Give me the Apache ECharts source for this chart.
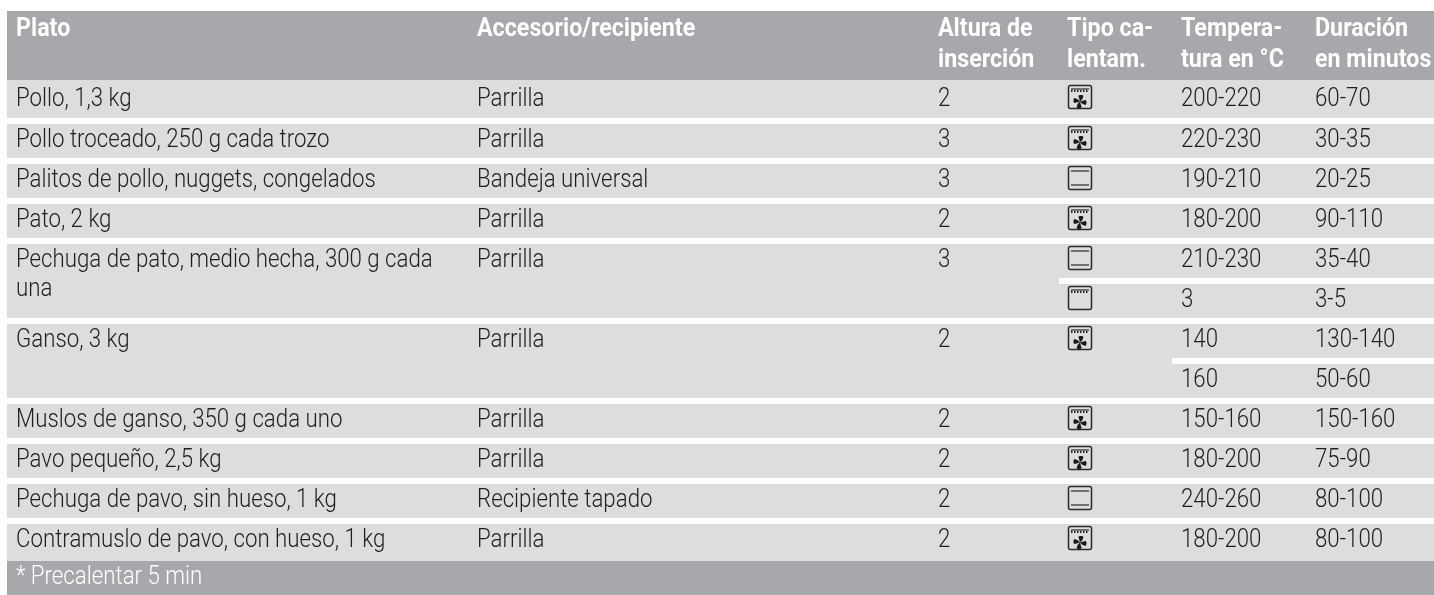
<!DOCTYPE html>
<html>
<head>
<meta charset="utf-8">
<style>
html, body { margin: 0; padding: 0; background: #fff; }
#box { width: 1434px; height: 595px; }
</style>
<script src="https://cdn.jsdelivr.net/npm/echarts@6/dist/echarts.min.js"></script>
</head>
<body>
<div id="box"></div>
<script>
// textos de la tabla
var cabeceras = ['Plato', 'Accesorio/recipiente', 'Altura de\ninserción', 'Tipo ca-\nlentam.', 'Tempera-\ntura en °C', 'Duración\nen minutos'];
var platos = ['Pollo, 1,3 kg', 'Pollo troceado, 250 g cada trozo', 'Palitos de pollo, nuggets, congelados', 'Pato, 2 kg',
    'Pechuga de pato, medio hecha, 300 g cada\nuna', 'Ganso, 3 kg', 'Muslos de ganso, 350 g cada uno', 'Pavo pequeño, 2,5 kg',
    'Pechuga de pavo, sin hueso, 1 kg', 'Contramuslo de pavo, con hueso, 1 kg'];
var accesorios = ['Parrilla', 'Parrilla', 'Bandeja universal', 'Parrilla', 'Parrilla', 'Parrilla', 'Parrilla', 'Parrilla', 'Recipiente tapado', 'Parrilla'];
var alturas = ['2', '3', '3', '2', '3', '2', '2', '2', '2', '2'];
var tipos = ['aire', 'aire', 'solera', 'aire', ['solera', 'grill'], 'aire', 'aire', 'aire', 'solera', 'aire'];
var temperaturas = ['200-220', '220-230', '190-210', '180-200', ['210-230', '3'], ['140', '160'], '150-160', '180-200', '240-260', '180-200'];
var duraciones = ['60-70', '30-35', '20-25', '90-110', ['35-40', '3-5'], ['130-140', '50-60'], '150-160', '75-90', '80-100', '80-100'];
var nota = '* Precalentar 5 min';

// geometria de filas y columnas (pixeles)
var colX = [16, 477, 938, 1068, 1181, 1315];
var filaTop = [80, 124, 164, 204, 244, 324, 404, 444, 484, 524];
var filaBottom = [118, 158, 198, 238, 318, 398, 438, 478, 518, 561];
var filaTexto = [20, 17, 17, 17, 17, 17, 17, 17, 17, 17];
var separadores = [[1059, 278, 284], [1172, 358, 364]];

var GRIS = '#a6a8ab', CLARO = '#dcddde', TINTA = '#1f1f1f';
var FUENTE = 'Roboto';

var bandas = [[7, 11, 1434, 80, GRIS], [7, 561, 1434, 595, GRIS]];
filaTop.forEach(function (t, i) {
    bandas.push([7, t, 1434, filaBottom[i], CLARO]);
});
separadores.forEach(function (s) {
    bandas.push([s[0], s[1], 1434, s[2], '#fff']);
});

var textos = [];
var iconos = [];
// cada linea es un texto aparte, asi no se mueve el centrado vertical
function pon(x, y, v, color, weight, paso, size, escala) {
    v.split('\n').forEach(function (l, k) {
        textos.push({ value: [x, y + k * paso], text: l, color: color, weight: weight, size: size, escala: escala });
    });
}
function celda(x, y, v) {
    pon(x, y, v, TINTA, 300, 29, 25, 0.89);
}
cabeceras.forEach(function (c, i) {
    pon(i === 3 ? 1067 : colX[i], 30, c, '#fff', 700, 31, 25, 0.93);
});
filaTop.forEach(function (t, i) {
    var y = t + filaTexto[i];
    celda(colX[0], y, platos[i]);
    celda(colX[1], y, accesorios[i]);
    celda(colX[2], y, alturas[i]);
    [].concat(temperaturas[i]).forEach(function (v, k) {
        celda(colX[4], y + k * 40, v);
    });
    [].concat(duraciones[i]).forEach(function (v, k) {
        celda(colX[5], y + k * 40, v);
    });
    [].concat(tipos[i]).forEach(function (v, k) {
        iconos.push({ value: [colX[3], y - 15 + k * 40], tipo: v });
    });
});
pon(colX[0], 578, nota, '#fff', 300, 29, 25, 0.89);

function pintaBanda(params, api) {
    var a = api.coord([api.value(0), api.value(1)]);
    var b = api.coord([api.value(2), api.value(3)]);
    return {
        type: 'rect',
        shape: { x: a[0], y: a[1], width: b[0] - a[0], height: b[1] - a[1] },
        style: { fill: bandas[params.dataIndex][4] }
    };
}

function pintaTexto(params, api) {
    var p = api.coord([api.value(0), api.value(1)]);
    var t = textos[params.dataIndex];
    return {
        type: 'text',
        x: p[0],
        y: p[1],
        scaleX: t.escala,
        style: {
            text: t.text,
            fill: t.color,
            font: t.weight + ' ' + t.size + 'px ' + FUENTE,
            verticalAlign: 'middle',
            align: 'left'
        }
    };
}

var ASPAS = 'M6 6 L4.6 1.2 C4.8 0 8.6 0 9 1.2 L8 4 Z M6 6 L10.8 4.6 C12 4.8 12 8.6 10.8 9 L8 8 Z M6 6 L7.4 10.8 C7.2 12 3.4 12 3 10.8 L4 8 Z M6 6 L1.2 7.4 C0 7.2 0 3.4 1.2 3 L4 4 Z';

function pintaIcono(params, api) {
    var p = api.coord([api.value(0), api.value(1)]);
    var tipo = iconos[params.dataIndex].tipo;
    var linea = { stroke: '#2a2a2a', lineWidth: 1.2, fill: null };
    var hijos = [{
        type: 'rect',
        shape: { x: 0.5, y: 0.5, width: 23, height: 23, r: 2 },
        style: { stroke: '#2a2a2a', lineWidth: 1.5, fill: null }
    }];
    if (tipo === 'solera') {
        hijos.push({ type: 'line', shape: { x1: 3, y1: 5, x2: 21, y2: 5 }, style: linea });
        hijos.push({ type: 'line', shape: { x1: 3, y1: 19, x2: 21, y2: 19 }, style: linea });
    } else {
        hijos.push({ type: 'line', shape: { x1: 3, y1: 4, x2: 21, y2: 4 }, style: linea });
        hijos.push({
            type: 'line',
            shape: { x1: 3, y1: 6, x2: 21, y2: 6 },
            style: { stroke: '#2a2a2a', lineWidth: 2, lineDash: [1.5, 1.5], fill: null }
        });
    }
    if (tipo === 'aire') {
        hijos.push({
            type: 'path',
            shape: { pathData: ASPAS, x: 5.5, y: 10, width: 13, height: 13 },
            style: { fill: '#1a1a1a' }
        });
    }
    return { type: 'group', x: p[0], y: p[1], children: hijos };
}

var myChart = echarts.init(document.getElementById('box'));
myChart.setOption({
    animation: false,
    grid: { left: 0, right: 0, top: 0, bottom: 0 },
    xAxis: { type: 'value', min: 0, max: 1434, show: false },
    yAxis: { type: 'value', min: 0, max: 595, inverse: true, show: false },
    series: [{
        type: 'custom',
        renderItem: pintaBanda,
        silent: true,
        encode: { x: [0, 2], y: [1, 3] },
        data: bandas.map(function (b) { return b.slice(0, 4); }),
        z: 1
    }, {
        type: 'custom',
        renderItem: pintaIcono,
        silent: true,
        encode: { x: 0, y: 1 },
        data: iconos,
        z: 2
    }, {
        type: 'custom',
        renderItem: pintaTexto,
        silent: true,
        encode: { x: 0, y: 1 },
        data: textos,
        z: 3
    }]
});
</script>
</body>
</html>
